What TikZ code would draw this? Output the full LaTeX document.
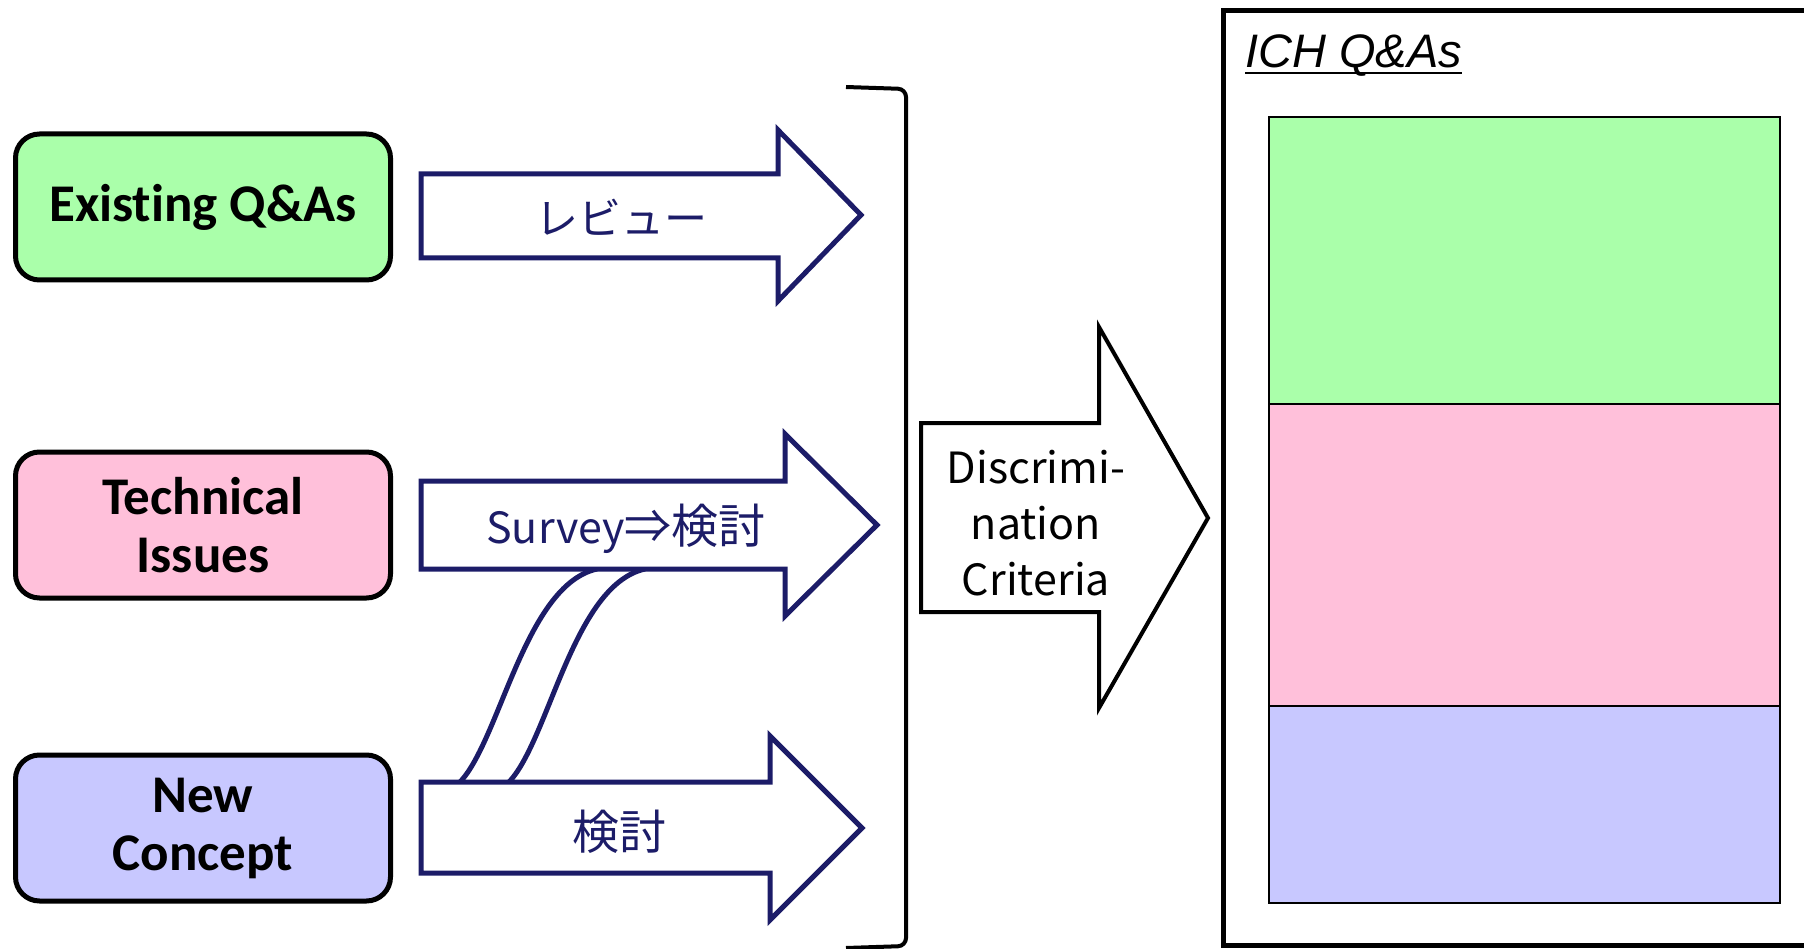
\documentclass[tikz,border=0pt]{standalone}
\usepackage{fontspec}
\newfontfamily\boxfont[Ligatures=NoCommon]{Carlito}
\newfontfamily\jpfont{Noto Sans CJK JP}
\newfontfamily\ichfont{Liberation Sans}
\definecolor{arrownavy}{RGB}{28,28,104}
\definecolor{qagreen}{RGB}{170,255,170}
\definecolor{qapink}{RGB}{255,192,218}
\definecolor{qablue}{RGB}{200,200,255}
\begin{document}
\begin{tikzpicture}[x=1pt,y=-1pt,
  srcbox/.style={draw=black, line width=5pt, rounded corners=24pt,
    minimum width=375pt, minimum height=146pt, inner sep=0pt, align=center,
    font=\boxfont\bfseries\fontsize{53}{58}\selectfont},
  flowarrow/.style={draw=arrownavy, line width=5pt, fill=white, line join=miter},
  flowlabel/.style={text=arrownavy, inner sep=0pt, font=\jpfont\fontsize{43}{48}\selectfont},
  link/.style={draw=arrownavy, line width=5pt},
  critarrow/.style={draw=black, line width=4pt, fill=white, line join=miter},
  critlabel/.style={inner sep=0pt, align=center, font=\jpfont\fontsize{43}{56}\selectfont},
  band/.style={draw=black, line width=1.5pt}]
\useasboundingbox (0,0) rectangle (1804,949);

% source boxes
\node[srcbox, fill=qagreen] (existing) at (203,207) {Existing Q\&As};
\node[srcbox, fill=qapink] (technical) at (203,525) {Technical\\Issues};
\node[srcbox, fill=qablue] (newconcept) at (203,828) {New\\Concept};

% S-shaped links from the lower arrow to the middle arrow
\coordinate (l1a) at (460,782);
\coordinate (l1b) at (597,569);
\coordinate (l2a) at (509,782);
\coordinate (l2b) at (645,569);
\draw[link] (l1a) .. controls (500,740) and (525,585) .. (l1b);
\draw[link] (l2a) .. controls (549,740) and (573,585) .. (l2b);

% flow arrows
\draw[flowarrow] (421,174) -- (778,174) -- (778,130) -- (861,215) -- (778,301) -- (778,258) -- (421,258) -- cycle;
\node[flowlabel] (review) at (621,217) {レビュー};
\draw[flowarrow] (421,481) -- (785,481) -- (785,434) -- (877,525) -- (785,616) -- (785,569) -- (421,569) -- cycle;
\node[flowlabel] (survey) at (626,529) {Survey{\fontsize{47}{48}\selectfont ⇒検討}};
\draw[flowarrow] (421,782) -- (770,782) -- (770,736) -- (862,828) -- (770,920) -- (770,873) -- (421,873) -- cycle;
\node[flowlabel, font=\jpfont\fontsize{47}{52}\selectfont] (kento) at (619,832) {検討};

% bracket
\draw[line width=4pt, rounded corners=8pt] (846,87) -- (906,89) -- (906,946) -- (846,948);

% discrimination arrow
\draw[critarrow] (921,423) -- (1099,423) -- (1099,327) -- (1208,518) -- (1099,708) -- (1099,612) -- (921,612) -- cycle;
\node[critlabel] (crit) at (1036,523) {Discrimi-\\nation\\Criteria};

% ICH Q&As panel
\draw[line width=5pt] (1223,11) rectangle (1830,945);
\node[inner sep=0pt, anchor=base west, font=\ichfont\itshape\fontsize{47}{54}\selectfont] (ich) at (1245,68) {ICH Q\&As};
\draw[line width=2pt] ([yshift=-5pt]ich.base west) -- ([yshift=-5pt]ich.base east);
\draw[band, fill=qagreen] (1269,117) rectangle (1780,404);
\draw[band, fill=qapink] (1269,404) rectangle (1780,706);
\draw[band, fill=qablue] (1269,706) rectangle (1780,903);
\end{tikzpicture}
\end{document}
